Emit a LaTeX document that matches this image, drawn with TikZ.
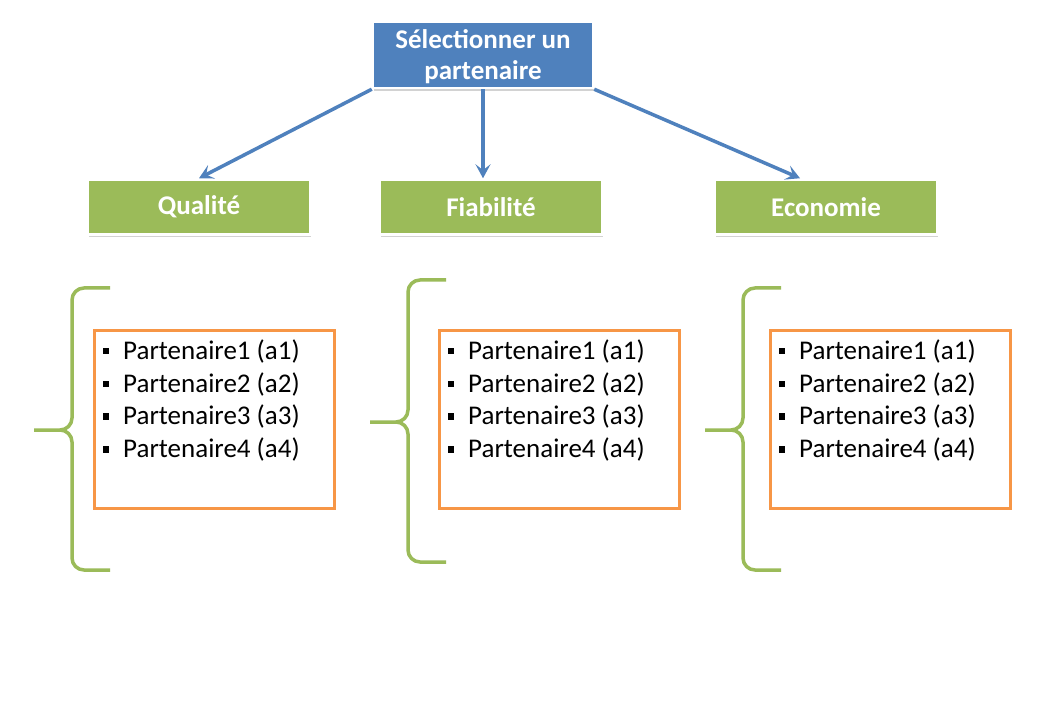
\documentclass[tikz,border=0pt]{standalone}
\usepackage{fontspec}
\setmainfont{Carlito}
\usetikzlibrary{arrows.meta, positioning, shadows}
\definecolor{titleblue}{HTML}{4F81BD}
\definecolor{critgreen}{HTML}{9BBB59}
\definecolor{listorange}{HTML}{F79646}
\newcommand{\partbullet}{\rule[5pt]{6.5pt}{6.5pt}\hspace{14pt}}
\newcommand{\partlist}{%
  \partbullet Partenaire1 (a1)\\
  \partbullet Partenaire2 (a2)\\
  \partbullet Partenaire3 (a3)\\
  \partbullet Partenaire4 (a4)}

\begin{document}
\begin{tikzpicture}[x=1pt, y=-1pt,
  topbox/.style={draw=white, line width=2.5pt, fill=titleblue, text=white,
                 font=\fontsize{27}{31}\selectfont\bfseries, align=center,
                 minimum width=220pt, minimum height=66pt, inner sep=0pt,
                 drop shadow={shadow xshift=1pt, shadow yshift=-3pt,
                              opacity=0.35}},
  critbox/.style={topbox, fill=critgreen, minimum width=222pt,
                  minimum height=55pt},
  listbox/.style={draw=listorange, line width=3pt, minimum width=240pt,
                  minimum height=178pt, inner sep=0pt},
  listtext/.style={font=\fontsize{27}{32.7}\selectfont, align=left,
                   anchor=north west, inner sep=0pt},
  arr/.style={-{Stealth[length=14pt, width=15pt, inset=6pt]}, titleblue,
              line width=3.5pt},
  curly/.style={critgreen, line width=3.5pt, rounded corners=12pt},
]

% --- canvas ---
\fill[white] (0,0) rectangle (1060,711);
\useasboundingbox (0,0) rectangle (1060,711);

% --- Goal ---
\node[topbox, text depth=0pt] (sel) at (483, 55) {Sélectionner un\\partenaire};

% --- Criteria ---
\node[critbox] (qual) at (199, 207) {Qualité};
\node[critbox] (fiab) at (491, 207) {Fiabilité};
\node[critbox] (eco)  at (826, 207) {Economie};

% --- Flow arrows ---
\draw[arr] (sel.south west) -- (qual.north);
\draw[arr] (sel.south) -- (sel.south |- fiab.north);
\draw[arr] (sel.south east) -- ([xshift=-26pt]eco.north);

% --- Alternatives ---
\node[listbox] (list1) at (214, 419) {};
\node[listbox] (list2) at (559, 419) {};
\node[listbox] (list3) at (890, 419) {};
\foreach \i in {1,2,3}
  \node[listtext] (txt\i) at ([xshift=10pt, yshift=-11pt]list\i.north west)
    {\partlist};

% --- Braces ---
\foreach \bx/\by in {72/430, 408/422, 743/430}
  \draw[curly] (\bx+38, \by-142) -| (\bx, \by) -- (\bx-38, \by)
               (\bx+38, \by+140) -| (\bx, \by) -- (\bx-38, \by);

\end{tikzpicture}
\end{document}
